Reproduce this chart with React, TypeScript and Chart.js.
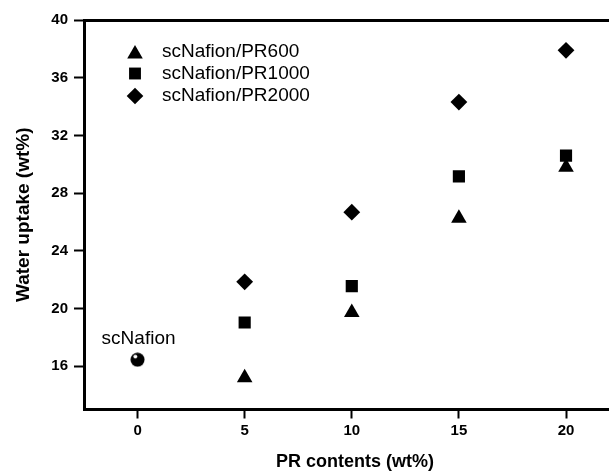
import React, { useEffect, useRef } from 'react';
import { Chart, registerables } from 'chart.js';
import { drawPoint } from 'chart.js/helpers';

Chart.register(...registerables);

// ---- data ----
const xTicks = [0, 5, 10, 15, 20];
const yTicks = [16, 20, 24, 28, 32, 36, 40];
const prContents = [5, 10, 15, 20];
const pr600 = [15.2, 19.73, 26.25, 29.8];
const pr1000 = [19.03, 21.55, 29.16, 30.6];
const pr2000 = [21.85, 26.68, 34.31, 37.9];
const scNafionX = [0];
const scNafionY = [16.45];
const seriesLabels = ['scNafion/PR600', 'scNafion/PR1000', 'scNafion/PR2000'];
const scNafionLabel = 'scNafion';
const xTitle = 'PR contents (wt%)';
const yTitle = 'Water uptake (wt%)';

const FONT = "'Liberation Sans', Arial, Helvetica, sans-serif";

function makeSphere(): HTMLCanvasElement {
  const c = document.createElement('canvas');
  c.width = 15;
  c.height = 15;
  const g = c.getContext('2d')!;
  g.fillStyle = '#000';
  g.beginPath();
  g.arc(7.5, 7.5, 7, 0, Math.PI * 2);
  g.fill();
  g.fillStyle = '#fff';
  g.beginPath();
  g.arc(5.3, 4.3, 1.9, 0, Math.PI * 2);
  g.fill();
  return c;
}

const overlayPlugin = {
  id: 'overlay',
  afterDatasetsDraw(chart: any) {
    const { ctx, chartArea, scales } = chart;
    ctx.save();
    // legend (inside plot, top-left)
    const styles = ['triangle', 'rect', 'rectRot'];
    const radii = [9, 8.4, 8.3];
    const rowY = [52, 73.5, 96];
    const symX = chartArea.left + 51;
    const textX = chartArea.left + 78;
    ctx.font = `19px ${FONT}`;
    ctx.textBaseline = 'middle';
    ctx.textAlign = 'left';
    for (let i = 0; i < seriesLabels.length; i++) {
      ctx.fillStyle = '#000';
      ctx.strokeStyle = '#000';
      const dy = styles[i] === 'triangle' ? 2 : 0;
      drawPoint(ctx, { pointStyle: styles[i], radius: radii[i], rotation: 0, borderWidth: 0 } as any, symX, rowY[i] + dy);
      ctx.fillStyle = '#000';
      ctx.fillText(seriesLabels[i], textX, rowY[i]);
    }
    // scNafion annotation
    const px = scales.x.getPixelForValue(scNafionX[0]);
    const py = scales.y.getPixelForValue(scNafionY[0]);
    ctx.textAlign = 'center';
    ctx.fillText(scNafionLabel, px + 1, py - 21);
    ctx.restore();
  },
};

export default function App() {
  const ref = useRef<HTMLCanvasElement>(null);
  useEffect(() => {
    if (!ref.current) return;
    const sphere = makeSphere();
    const toPts = (xs: number[], ys: number[]) => xs.map((x, i) => ({ x, y: ys[i] }));
    const commonPt = { showLine: false, backgroundColor: '#000', borderColor: '#000', pointBorderWidth: 0 };
    const tickGrid = (len: number) => ({
      display: true,
      drawOnChartArea: false,
      drawTicks: true,
      tickLength: len,
      tickWidth: 2,
      tickColor: '#000',
    });
    const chart = new Chart(ref.current, {
      type: 'scatter',
      data: {
        datasets: [
          { label: seriesLabels[0], data: toPts(prContents, pr600), pointStyle: 'triangle', pointRadius: 9, ...commonPt },
          { label: seriesLabels[1], data: toPts(prContents, pr1000), pointStyle: 'rect', pointRadius: 8.6, ...commonPt },
          { label: seriesLabels[2], data: toPts(prContents, pr2000), pointStyle: 'rectRot', pointRadius: 8.4, ...commonPt },
          { label: scNafionLabel, data: toPts(scNafionX, scNafionY), pointStyle: sphere as any, pointRadius: 7, ...commonPt },
        ] as any,
      },
      options: {
        responsive: false,
        animation: false,
        devicePixelRatio: 1,
        layout: { padding: { top: 20, left: 0, right: 0, bottom: 0 } },
        plugins: { legend: { display: false }, tooltip: { enabled: false } },
        scales: {
          x: {
            type: 'linear',
            position: 'bottom',
            min: -2.5,
            max: 22.8,
            afterBuildTicks: (s: any) => {
              s.ticks = xTicks.map((v) => ({ value: v }));
            },
            afterFit: (s: any) => {
              s.height = 61.5;
            },
            grid: tickGrid(9),
            border: { display: true, width: 3, color: '#000' },
            ticks: {
              color: '#000',
              font: { family: FONT, size: 15, weight: 'bold' },
              padding: 3,
              maxRotation: 0,
              autoSkip: false,
            },
            title: {
              display: true,
              text: xTitle,
              color: '#000',
              font: { family: FONT, size: 18, weight: 'bold', lineHeight: 1 },
              padding: { top: 0, bottom: 0 },
            },
          },
          xTop: {
            type: 'linear',
            position: 'top',
            min: -2.5,
            max: 22.8,
            afterFit: (s: any) => {
              s.height = 0;
            },
            grid: { display: false, drawTicks: false },
            border: { display: true, width: 3, color: '#000' },
            ticks: { display: false },
          },
          y: {
            type: 'linear',
            position: 'left',
            min: 13,
            max: 40,
            afterBuildTicks: (s: any) => {
              s.ticks = yTicks.map((v) => ({ value: v }));
            },
            afterFit: (s: any) => {
              s.width = 84;
            },
            grid: tickGrid(10),
            border: { display: true, width: 3, color: '#000' },
            ticks: {
              color: '#000',
              font: { family: FONT, size: 15, weight: 'bold' },
              padding: 6,
              autoSkip: false,
            },
            title: {
              display: true,
              text: yTitle,
              color: '#000',
              font: { family: FONT, size: 19, weight: 'bold', lineHeight: 1 },
              padding: { top: 14, bottom: 0 },
            },
          },
        },
      } as any,
      plugins: [overlayPlugin],
    });
    return () => chart.destroy();
  }, []);
  return (
    <div
      style={{
        position: 'fixed',
        left: 0,
        top: 0,
        width: 609,
        height: 471,
        overflow: 'hidden',
        background: '#fff',
      }}
    >
      <canvas ref={ref} width={635} height={471} style={{ display: 'block', width: 635, height: 471 }} />
    </div>
  );
}
